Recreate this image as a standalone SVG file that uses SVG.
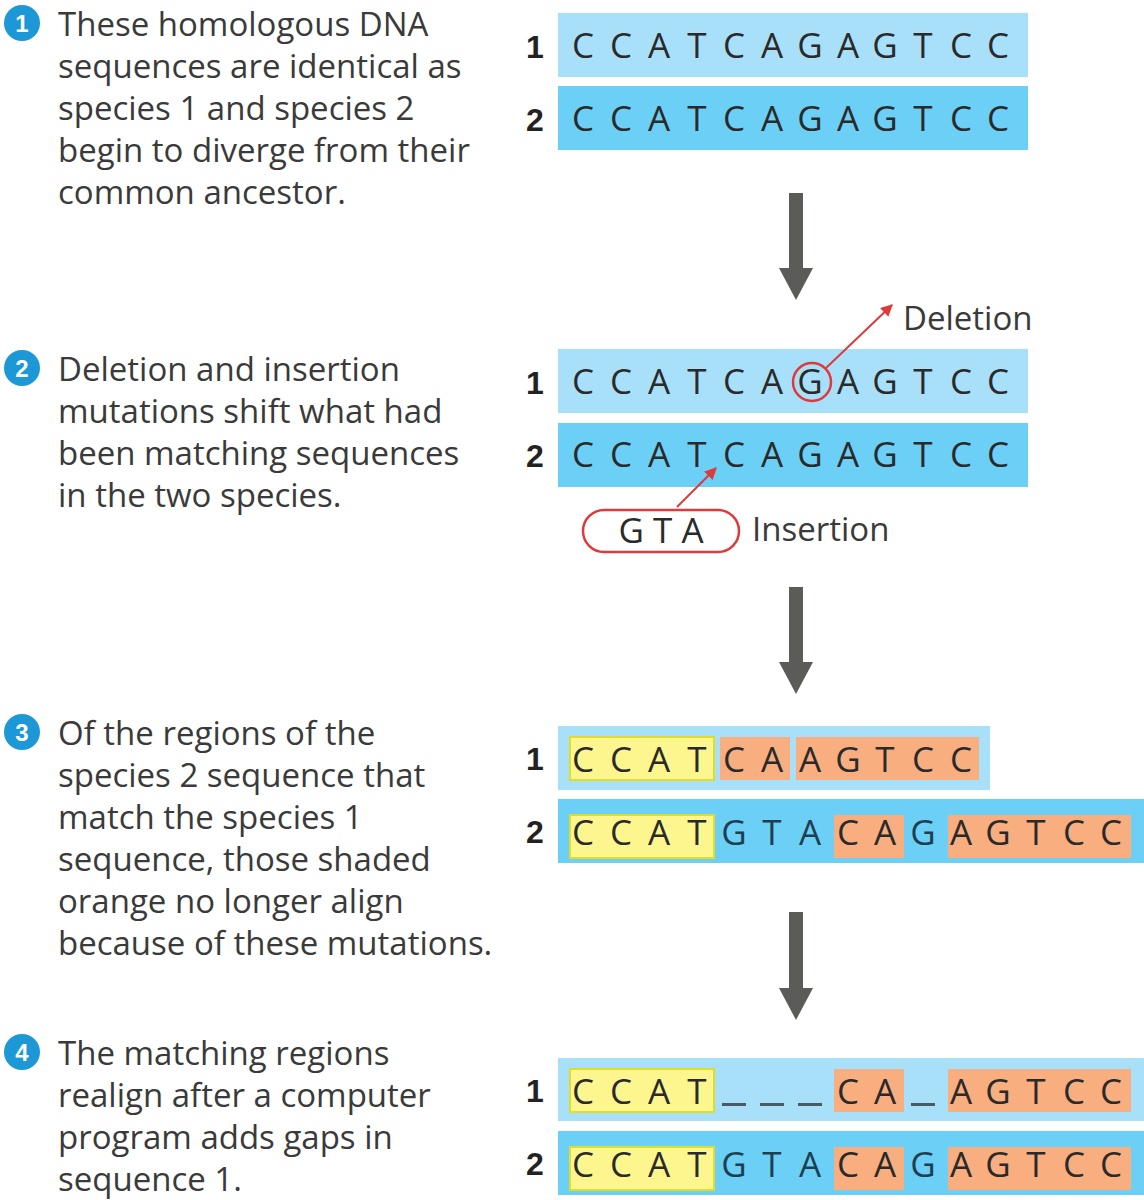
<svg xmlns="http://www.w3.org/2000/svg" width="1144" height="1200" viewBox="0 0 1144 1200">
<style>
.t{font-family:"Open Sans","Liberation Sans",sans-serif;font-size:33px;fill:#3a3a3a}
.n{font-family:"Liberation Sans",sans-serif;font-size:24px;font-weight:bold;fill:#fff;text-anchor:middle}
.r{font-family:"Liberation Sans",sans-serif;font-size:32px;font-weight:bold;fill:#222;text-anchor:middle}
.s{font-family:"Open Sans","Liberation Sans",sans-serif;font-size:35px;fill:#2a2a2a;text-anchor:middle}
.b{fill:#1e3f52}
.l1{fill:#a9e0f9}.l2{fill:#6ccff5}
.y{fill:#fdf68f;stroke:#e0dc2a;stroke-width:2}
.o{fill:#f9ae80}
.circ{fill:#1b98d5}
.ar{fill:#5b5b57}
.red{stroke:#e0393b;stroke-width:2.5;fill:none}
</style>
<defs>
<marker id="rh" viewBox="0 0 10 10" refX="9" refY="5" markerWidth="6" markerHeight="6" orient="auto"><path d="M0,0L10,5L0,10z" fill="#e0393b"/></marker>
<g id="seqFull">
<text class="s" x="583" y="0">C</text><text class="s" x="621" y="0">C</text><text class="s" x="659" y="0">A</text><text class="s" x="697" y="0">T</text><text class="s" x="734" y="0">C</text><text class="s" x="772" y="0">A</text><text class="s" x="810" y="0">G</text><text class="s" x="848" y="0">A</text><text class="s" x="885" y="0">G</text><text class="s" x="923" y="0">T</text><text class="s" x="961" y="0">C</text><text class="s" x="998" y="0">C</text>
</g>
<g id="seqIns">
<rect class="y" x="570" y="-30" width="144" height="43"/>
<rect class="o" x="834" y="-30" width="70" height="43"/>
<rect class="o" x="948" y="-30" width="183" height="43"/>
<text class="s" x="583" y="0">C</text><text class="s" x="621" y="0">C</text><text class="s" x="659" y="0">A</text><text class="s" x="697" y="0">T</text>
<text class="s b" x="734" y="0">G</text><text class="s b" x="772" y="0">T</text><text class="s b" x="810" y="0">A</text>
<text class="s" x="848" y="0">C</text><text class="s" x="885" y="0">A</text><text class="s b" x="923" y="0">G</text>
<text class="s" x="961" y="0">A</text><text class="s" x="998" y="0">G</text><text class="s" x="1036" y="0">T</text><text class="s" x="1074" y="0">C</text><text class="s" x="1111" y="0">C</text>
</g>
</defs>

<g id="step1">
<circle class="circ" cx="22" cy="23" r="18"/><text class="n" x="22" y="32">1</text>
<text class="t" x="58" y="36">These homologous DNA</text>
<text class="t" x="58" y="78">sequences are identical as</text>
<text class="t" x="58" y="120">species 1 and species 2</text>
<text class="t" x="58" y="162">begin to diverge from their</text>
<text class="t" x="58" y="204">common ancestor.</text>
<text class="r" x="535" y="58">1</text><text class="r" x="535" y="131">2</text>
<rect class="l1" x="558" y="13" width="470" height="64"/>
<rect class="l2" x="558" y="86" width="470" height="64"/>
<use href="#seqFull" y="58"/><use href="#seqFull" y="131"/>
</g>

<g id="step2">
<circle class="circ" cx="22" cy="368" r="18"/><text class="n" x="22" y="377">2</text>
<text class="t" x="58" y="381">Deletion and insertion</text>
<text class="t" x="58" y="423">mutations shift what had</text>
<text class="t" x="58" y="465">been matching sequences</text>
<text class="t" x="58" y="507">in the two species.</text>
<text class="r" x="535" y="394">1</text><text class="r" x="535" y="467">2</text>
<rect class="l1" x="558" y="349" width="470" height="64"/>
<rect class="l2" x="558" y="423" width="470" height="64"/>
<use href="#seqFull" y="394"/><use href="#seqFull" y="467"/>
<circle class="red" cx="812" cy="382" r="19"/>
<text class="t" x="903" y="330">Deletion</text>
<rect class="red" x="583" y="510" width="156" height="42" rx="21"/>
<text class="s" x="661" y="543">G T A</text>
<text class="t" x="752" y="541">Insertion</text>
</g>

<g id="step3">
<circle class="circ" cx="22" cy="732" r="18"/><text class="n" x="22" y="741">3</text>
<text class="t" x="58" y="745">Of the regions of the</text>
<text class="t" x="58" y="787">species 2 sequence that</text>
<text class="t" x="58" y="829">match the species 1</text>
<text class="t" x="58" y="871">sequence, those shaded</text>
<text class="t" x="58" y="913">orange no longer align</text>
<text class="t" x="58" y="955">because of these mutations.</text>
<text class="r" x="535" y="770">1</text><text class="r" x="535" y="843">2</text>
<rect class="l1" x="558" y="726" width="432" height="64"/>
<rect class="l2" x="558" y="799" width="586" height="64"/>
<rect class="y" x="570" y="737" width="144" height="43"/>
<rect class="o" x="720" y="737" width="70" height="43"/>
<rect class="o" x="796" y="737" width="183" height="43"/>
<g>
<text class="s" x="583" y="772">C</text><text class="s" x="621" y="772">C</text><text class="s" x="659" y="772">A</text><text class="s" x="697" y="772">T</text>
<text class="s" x="734" y="772">C</text><text class="s" x="772" y="772">A</text><text class="s" x="810" y="772">A</text><text class="s" x="848" y="772">G</text><text class="s" x="885" y="772">T</text><text class="s" x="923" y="772">C</text><text class="s" x="961" y="772">C</text>
</g>
<use href="#seqIns" y="845"/>
</g>

<g id="step4">
<circle class="circ" cx="22" cy="1052" r="18"/><text class="n" x="22" y="1061">4</text>
<text class="t" x="58" y="1065">The matching regions</text>
<text class="t" x="58" y="1107">realign after a computer</text>
<text class="t" x="58" y="1149">program adds gaps in</text>
<text class="t" x="58" y="1191">sequence 1.</text>
<text class="r" x="535" y="1102">1</text><text class="r" x="535" y="1175">2</text>
<rect class="l1" x="558" y="1058" width="586" height="63"/>
<rect class="l2" x="558" y="1131" width="586" height="64"/>
<rect class="y" x="570" y="1069" width="144" height="43"/>
<rect class="o" x="834" y="1069" width="70" height="43"/>
<rect class="o" x="948" y="1069" width="183" height="43"/>
<text class="s" x="583" y="1104">C</text><text class="s" x="621" y="1104">C</text><text class="s" x="659" y="1104">A</text><text class="s" x="697" y="1104">T</text>
<g fill="#4a5a62"><rect x="722" y="1103" width="24" height="3"/><rect x="760" y="1103" width="24" height="3"/><rect x="798" y="1103" width="24" height="3"/><rect x="911" y="1103" width="24" height="3"/></g>
<text class="s" x="848" y="1104">C</text><text class="s" x="885" y="1104">A</text>
<text class="s" x="961" y="1104">A</text><text class="s" x="998" y="1104">G</text><text class="s" x="1036" y="1104">T</text><text class="s" x="1074" y="1104">C</text><text class="s" x="1111" y="1104">C</text>
<use href="#seqIns" y="1177"/>
</g>

<g id="connectors">
<path class="ar" d="M789,193H803V268H813L796,300L779,268H789Z"/>
<path class="ar" d="M789,587H803V662H813L796,694L779,662H789Z"/>
<path class="ar" d="M789,912H803V988H813L796,1020L779,988H789Z"/>
<line x1="826" y1="368" x2="892" y2="305" stroke="#e0393b" stroke-width="2" marker-end="url(#rh)"/>
<line x1="677" y1="507" x2="716" y2="468" stroke="#e0393b" stroke-width="2" marker-end="url(#rh)"/>
</g>
</svg>
